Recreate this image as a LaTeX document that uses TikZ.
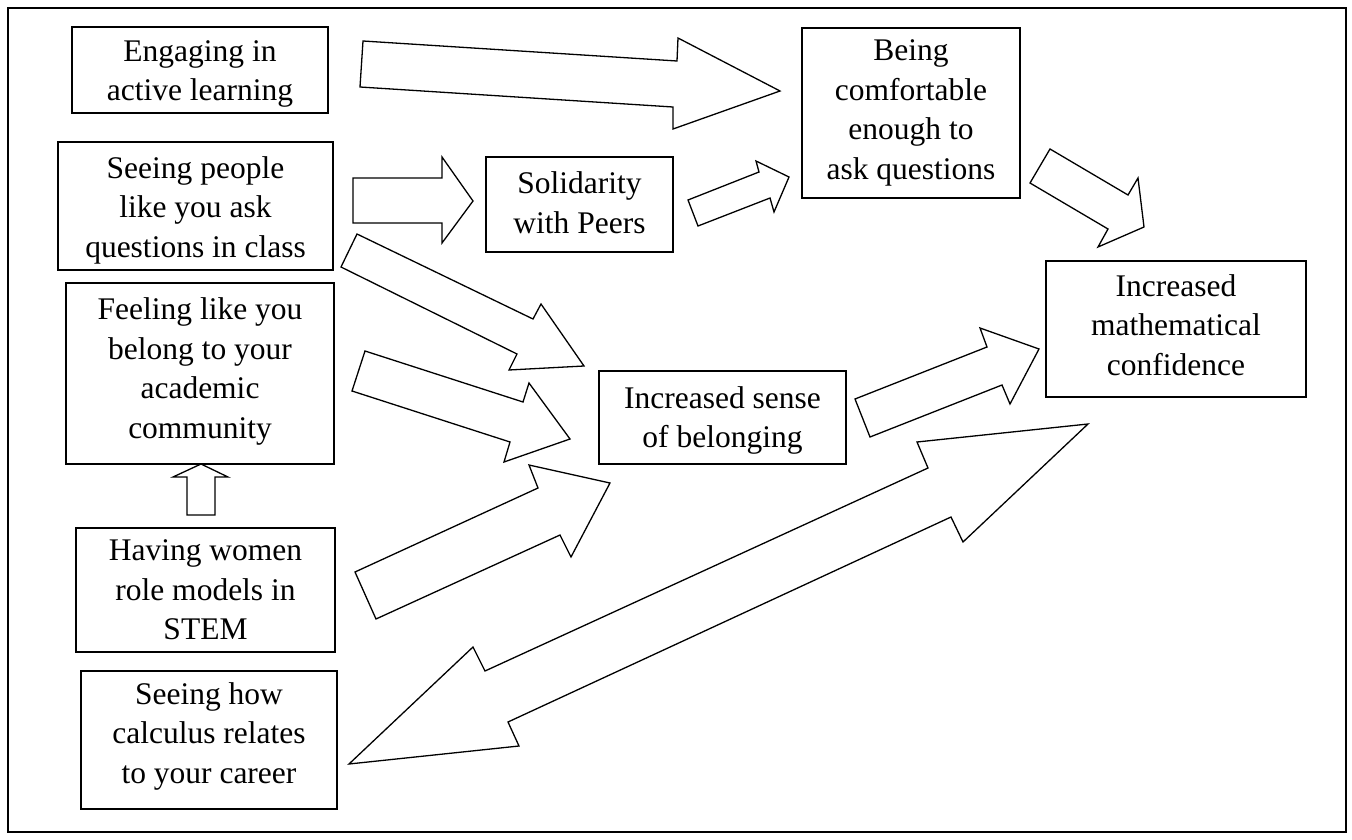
\documentclass[tikz,border=0pt]{standalone}
\usepackage{fontspec}
\setmainfont{Liberation Serif}
\begin{document}
\begin{tikzpicture}[x=1pt,y=-1pt,
  box/.style={draw,line width=1.7pt,inner sep=0pt},
  txt/.style={align=center,inner sep=0pt,font=\fontsize{31.5}{39.5}\selectfont},
  barrow/.style={draw,line width=1.3pt,fill=white,line join=miter},
  frame/.style={draw,line width=1.8pt}]
\useasboundingbox (0,0) rectangle (1352,840);
\draw[frame] (8,8) rectangle (1346,832);
% boxes
\node[box,minimum width=256pt,minimum height=86pt] (eng) at (200,70) {};
\node[box,minimum width=275pt,minimum height=128pt] (seeq) at (195.5,206) {};
\node[box,minimum width=268pt,minimum height=181pt] (feel) at (200,373.5) {};
\node[box,minimum width=259pt,minimum height=124pt] (have) at (205.5,590) {};
\node[box,minimum width=256pt,minimum height=138pt] (calc) at (209,740) {};
\node[box,minimum width=187pt,minimum height=95pt] (sol) at (579.5,204.5) {};
\node[box,minimum width=218pt,minimum height=170pt] (comf) at (911,113) {};
\node[box,minimum width=260pt,minimum height=136pt] (conf) at (1176,329) {};
\node[box,minimum width=247pt,minimum height=93pt] (sense) at (722.5,417.5) {};
% texts
\node[txt] (engt) at ([yshift=-4pt]eng.center) {Engaging in\\active learning};
\node[txt] (seeqt) at ([yshift=-4pt]seeq.center) {Seeing people\\like you ask\\questions in class};
\node[txt] (feelt) at ([yshift=2pt]feel.center) {Feeling like you\\belong to your\\academic\\community};
\node[txt] (havet) at (have.center) {Having women\\role models in\\STEM};
\node[txt] (calct) at ([yshift=4pt]calc.center) {Seeing how\\calculus relates\\to your career};
\node[txt] (solt) at ([yshift=2pt]sol.center) {Solidarity\\with Peers};
\node[txt] (comft) at (comf.center) {Being\\comfortable\\enough to\\ask questions};
\node[txt] (conft) at ([yshift=4pt]conf.center) {Increased\\mathematical\\confidence};
\node[txt] (senset) at ([yshift=-3pt]sense.center) {Increased sense\\of belonging};
% block arrows
\draw[barrow] (201,464) -- (228,477) -- (215,477) -- (215,515) -- (187,515) -- (187,477) -- (173,477) -- cycle;
\draw[barrow] (363,41) -- (677,61) -- (678,38) -- (780,91) -- (673,129) -- (673,107) -- (360,87) -- cycle;
\draw[barrow] (353,178) -- (442,178) -- (442,157) -- (473,201) -- (442,243) -- (442,223) -- (353,223) -- cycle;
\draw[barrow] (688,200) -- (759,172) -- (756,161) -- (789,177) -- (774,212) -- (770,198) -- (698,226) -- cycle;
\draw[barrow] (1050,149) -- (1128,195) -- (1138,178) -- (1144,227) -- (1098,247) -- (1108,229) -- (1030,183) -- cycle;
\draw[barrow] (357,234) -- (533,319) -- (541,304) -- (584,366) -- (509,370) -- (517,354) -- (341,267) -- cycle;
\draw[barrow] (365,351) -- (523,402) -- (529,383) -- (570,439) -- (504,462) -- (510,442) -- (352,391) -- cycle;
\draw[barrow] (355,572) -- (538,488) -- (529,465) -- (610,483) -- (571,557) -- (560,535) -- (376,619) -- cycle;
\draw[barrow] (855,399) -- (987,347) -- (980,328) -- (1039,349) -- (1010,404) -- (1002,385) -- (870,437) -- cycle;
\draw[barrow] (1088,424) -- (963,542) -- (951,517) -- (508,722) -- (519,746) -- (349,764) -- (473,647) -- (485,671) -- (928,468) -- (917,442) -- cycle;
\end{tikzpicture}
\end{document}
